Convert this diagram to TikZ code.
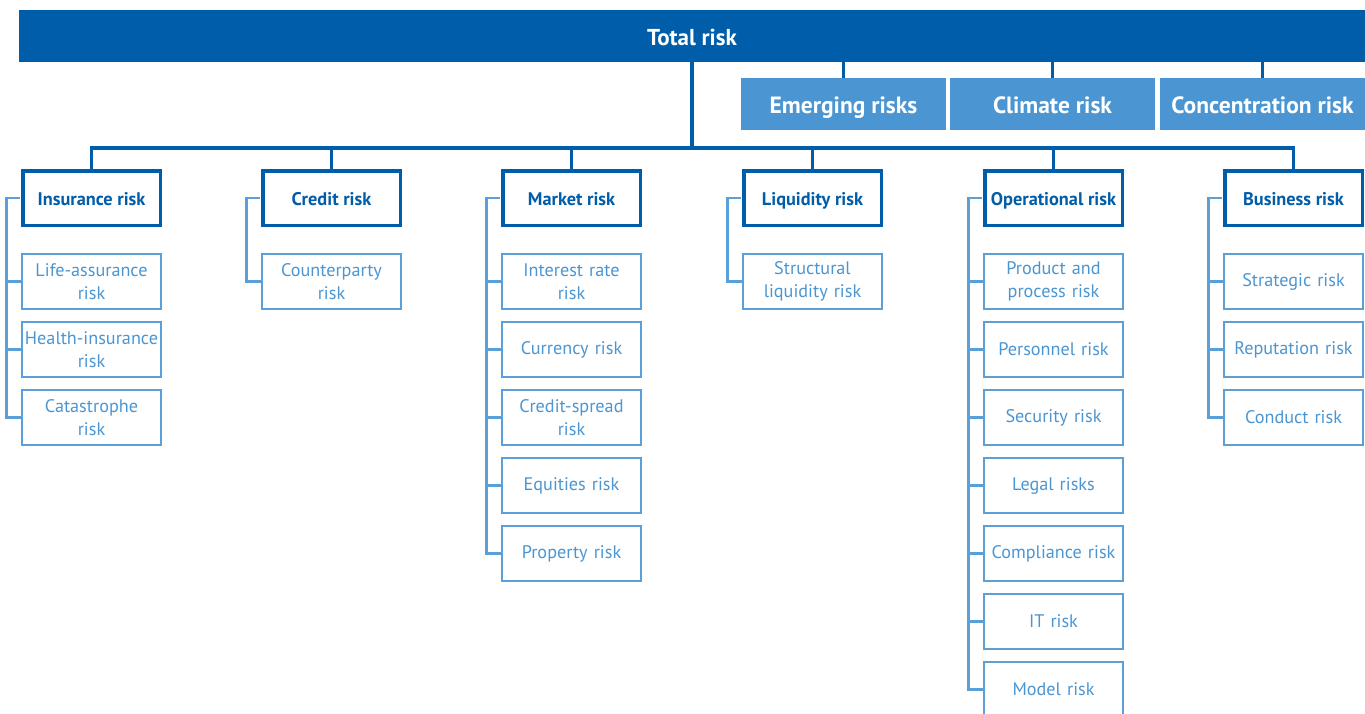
\documentclass[tikz,border=0pt]{standalone}
\usepackage{fontspec}
\setmainfont{PT Sans}
\definecolor{dk}{HTML}{005DA9}
\definecolor{lt}{HTML}{4B96D2}
\definecolor{ltl}{HTML}{5A9FD8}
\begin{document}
\begin{tikzpicture}[x=1pt,y=-1pt,
  topbar/.style={fill=dk,draw=none,minimum width=1346pt,minimum height=52pt,inner sep=0pt,text=white,text height=19pt,text depth=0pt,font=\bfseries\fontsize{23}{27}\selectfont},
  side/.style={fill=lt,draw=none,minimum width=205pt,minimum height=52pt,inner sep=0pt,text=white,text height=18pt,text depth=0pt,font=\bfseries\fontsize{23.5}{27}\selectfont},
  cat/.style={draw=dk,line width=3.5pt,fill=white,minimum width=137.5pt,minimum height=54.5pt,inner sep=0pt,text=dk,text height=14pt,text depth=0pt,font=\bfseries\fontsize{18.3}{22}\selectfont},
  sub/.style={draw=ltl,line width=2.4pt,fill=white,minimum width=139pt,minimum height=55pt,inner sep=0pt,text=lt,align=center,text width=139pt,font=\fontsize{18.2}{22.5}\selectfont},
  main/.style={draw=dk,line width=3.5pt},
  tree/.style={draw=ltl,line width=2.6pt}]
\useasboundingbox (0,0) rectangle (1365,713);
\node[topbar] (total) at (692,36) {Total risk};
\node[side] (emg) at (843.5,104) {Emerging risks};
\node[side] (clim) at (1052.5,104) {Climate risk};
\node[side] (conc) at (1262.5,104) {Concentration risk};
\foreach \n in {emg,clim,conc} \draw[main] (\n.north) -- (\n.north |- total.south);
\coordinate (hub) at (692,148);
\draw[main] (total.south) -- (hub);
% categories
\node[cat] (ins) at (91.5,198) {Insurance risk};
\node[cat] (cre) at (331.5,198) {Credit risk};
\node[cat] (mkt) at (571.5,198) {Market risk};
\node[cat] (liq) at (812.5,198) {Liquidity risk};
\node[cat] (ops) at (1053.5,198) {Operational risk};
\node[cat] (bus) at (1293.5,198) {Business risk};
\draw[main] (ins.north) |- (hub) -| (bus.north);
\foreach \n in {cre,mkt,liq,ops} \draw[main] (\n.north) -- (\n.north |- hub);
% sub boxes
\def\ry#1{281.5+68*#1}
\node[sub] (ins1) at (91.5,{\ry0}) {Life-assurance\\risk};
\node[sub] (ins2) at (91.5,{\ry1}) {Health-insurance\\risk};
\node[sub] (ins3) at (91.5,{\ry2}) {Catastrophe\\risk};
\node[sub] (cre1) at (331.5,{\ry0}) {Counterparty\\risk};
\node[sub] (mkt1) at (571.5,{\ry0}) {Interest rate\\risk};
\node[sub] (mkt2) at (571.5,{\ry1}) {Currency risk};
\node[sub] (mkt3) at (571.5,{\ry2}) {Credit-spread\\risk};
\node[sub] (mkt4) at (571.5,{\ry3}) {Equities risk};
\node[sub] (mkt5) at (571.5,{\ry4}) {Property risk};
\node[sub] (liq1) at (812.5,{\ry0}) {Structural\\liquidity risk};
\node[sub] (ops1) at (1053.5,{\ry0}) {Product and\\process risk};
\node[sub] (ops2) at (1053.5,{\ry1}) {Personnel risk};
\node[sub] (ops3) at (1053.5,{\ry2}) {Security risk};
\node[sub] (ops4) at (1053.5,{\ry3}) {Legal risks};
\node[sub] (ops5) at (1053.5,{\ry4}) {Compliance risk};
\node[sub] (ops6) at (1053.5,{\ry5}) {IT risk};
\node[sub] (ops7) at (1053.5,{\ry6}) {Model risk};
\node[sub] (bus1) at (1293.5,{\ry0}) {Strategic risk};
\node[sub] (bus2) at (1293.5,{\ry1}) {Reputation risk};
\node[sub] (bus3) at (1293.5,{\ry2}) {Conduct risk};
% trees
\foreach \c/\k in {ins/3,cre/1,mkt/5,liq/1,ops/7,bus/3}{
  \draw[tree] ([xshift=-1.5pt]\c.west) -- ++(-13,0) coordinate (\c sp) |- (\c\k.west);
  \foreach \i in {1,...,\k} \draw[tree] (\c\i.west) -- (\c\i.west -| \c sp);
}
\end{tikzpicture}
\end{document}
